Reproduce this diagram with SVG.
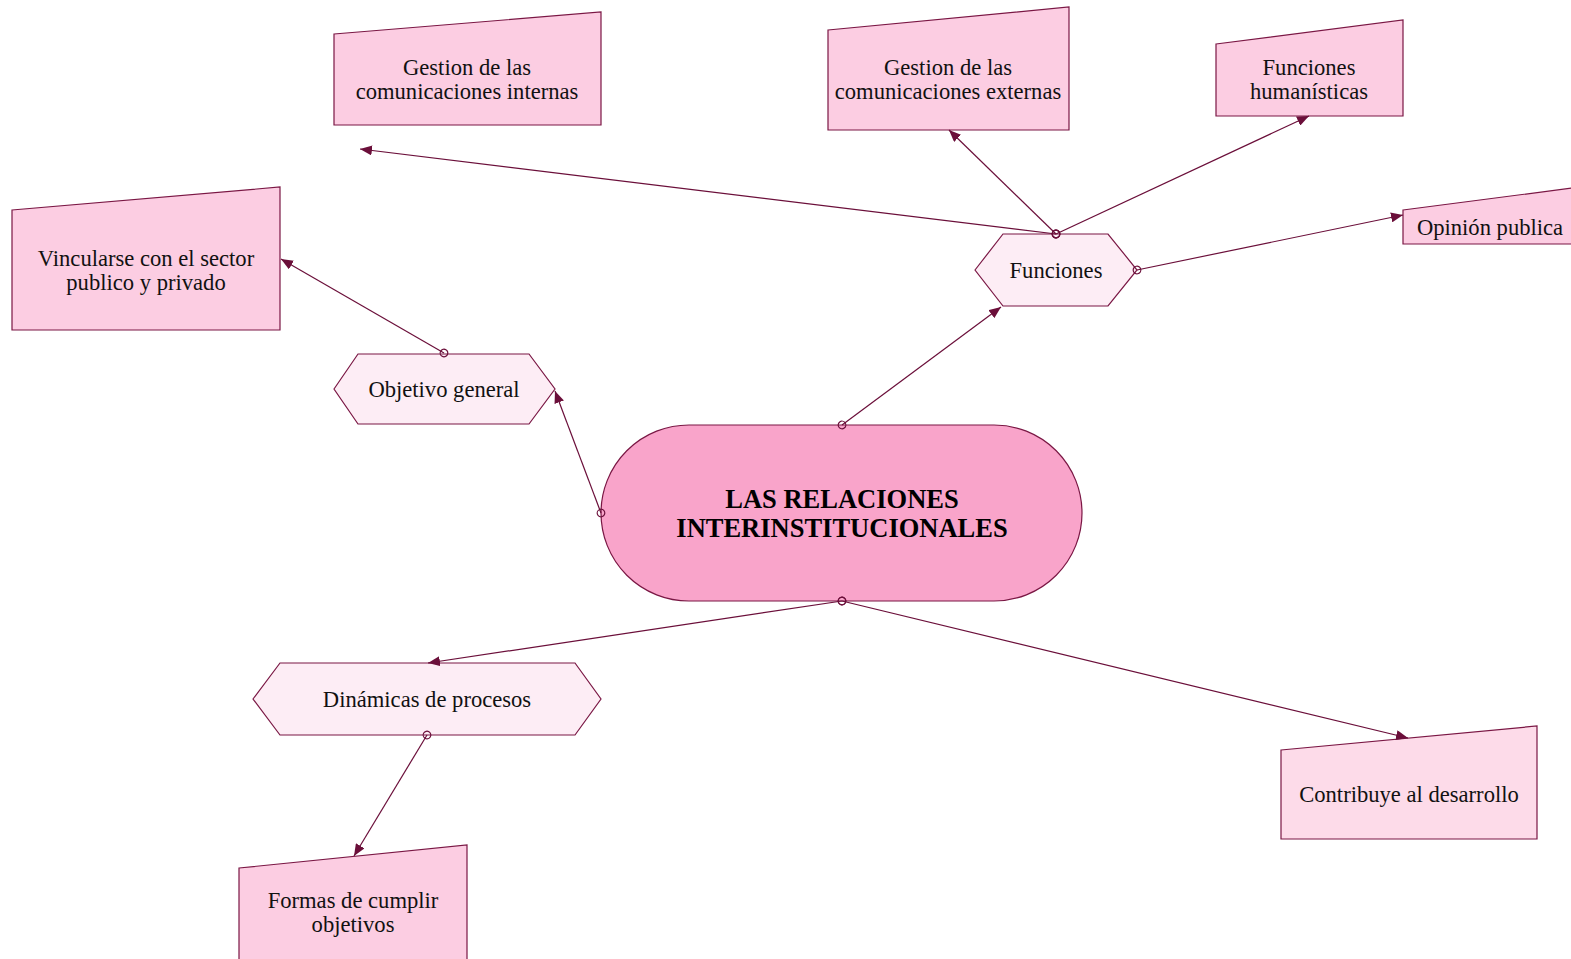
<svg xmlns="http://www.w3.org/2000/svg" width="1571" height="959" viewBox="0 0 1571 959">
<defs>
<style>
.box{fill:#fccde2;stroke:#7a1744;stroke-width:1.2}
.box2{fill:#fddbe9;stroke:#7a1744;stroke-width:1.2}
.hex{fill:#fdedf5;stroke:#7a1744;stroke-width:1.2}
.main{fill:#f9a4ca;stroke:#7a1744;stroke-width:1.2}
.t{font-family:"Liberation Serif","Times New Roman",serif;font-size:22.6px;fill:#111;text-anchor:middle}
.tb{font-family:"Liberation Serif","Times New Roman",serif;font-size:26.5px;font-weight:bold;fill:#000;text-anchor:middle}
.c{stroke:#6b0f3a;stroke-width:1.2;fill:none;marker-start:url(#dot);marker-end:url(#arr)}
</style>
<marker id="arr" viewBox="0 0 12 10" refX="12" refY="5" markerWidth="12" markerHeight="10" markerUnits="userSpaceOnUse" orient="auto">
<path d="M0,0 L12,5 L0,10 Z" fill="#6b0f3a"/>
</marker>
<marker id="dot" viewBox="0 0 10 10" refX="5" refY="5" markerWidth="10" markerHeight="10" markerUnits="userSpaceOnUse" orient="auto">
<circle cx="5" cy="5" r="3.8" fill="none" stroke="#6b0f3a" stroke-width="1.2"/>
</marker>
</defs>
<rect width="1571" height="959" fill="#fff"/>
<g id="n-internas">
<polygon class="box" points="334,34 601,12 601,125 334,125"/>
<text class="t" x="467" y="75">Gestion de las</text>
<text class="t" x="467" y="99">comunicaciones internas</text>
</g>
<g id="n-externas">
<polygon class="box" points="828,30 1069,7 1069,130 828,130"/>
<text class="t" x="948" y="75">Gestion de las</text>
<text class="t" x="948" y="99">comunicaciones externas</text>
</g>
<g id="n-humanisticas">
<polygon class="box" points="1216,44 1403,20 1403,116 1216,116"/>
<text class="t" x="1309" y="75">Funciones</text>
<text class="t" x="1309" y="99">humanísticas</text>
</g>
<g id="n-opinion">
<polygon class="box" points="1403,210 1580,187 1580,244 1403,244"/>
<text class="t" x="1490" y="235">Opinión publica</text>
</g>
<g id="n-vincularse">
<polygon class="box" points="12,210 280,187 280,330 12,330"/>
<text class="t" x="146" y="266">Vincularse con el sector</text>
<text class="t" x="146" y="290">publico y privado</text>
</g>
<g id="n-funciones">
<polygon class="hex" points="975,270 1003,234 1108,234 1137,270 1108,306 1003,306"/>
<text class="t" x="1056" y="278">Funciones</text>
</g>
<g id="n-objetivo">
<polygon class="hex" points="334,389 358,354 529,354 555,389 529,424 358,424"/>
<text class="t" x="444" y="397">Objetivo general</text>
</g>
<g id="n-central">
<rect class="main" x="601" y="425" width="481" height="176" rx="88" ry="88"/>
<text class="tb" x="842" y="508">LAS RELACIONES</text>
<text class="tb" x="842" y="537">INTERINSTITUCIONALES</text>
</g>
<g id="n-dinamicas">
<polygon class="hex" points="253,699 280,663 575,663 601,699 575,735 280,735"/>
<text class="t" x="427" y="707">Dinámicas de procesos</text>
</g>
<g id="n-formas">
<polygon class="box" points="239,868 467,845 467,970 239,970"/>
<text class="t" x="353" y="908">Formas de cumplir</text>
<text class="t" x="353" y="932">objetivos</text>
</g>
<g id="n-contribuye">
<polygon class="box2" points="1281,750 1537,726 1537,839 1281,839"/>
<text class="t" x="1409" y="802">Contribuye al desarrollo</text>
</g>
<g id="connectors">
<line class="c" x1="842" y1="425" x2="1001" y2="307"/>
<line class="c" x1="601" y1="513" x2="555" y2="391"/>
<line class="c" x1="842" y1="601" x2="428" y2="663"/>
<line class="c" x1="842" y1="601" x2="1408" y2="738"/>
<line class="c" x1="1056" y1="234" x2="360" y2="149"/>
<line class="c" x1="1056" y1="234" x2="949" y2="130"/>
<line class="c" x1="1056" y1="234" x2="1309" y2="116"/>
<line class="c" x1="1137" y1="270" x2="1403" y2="215"/>
<line class="c" x1="444" y1="353" x2="281" y2="259"/>
<line class="c" x1="427" y1="735" x2="354" y2="856"/>
</g>
</svg>
